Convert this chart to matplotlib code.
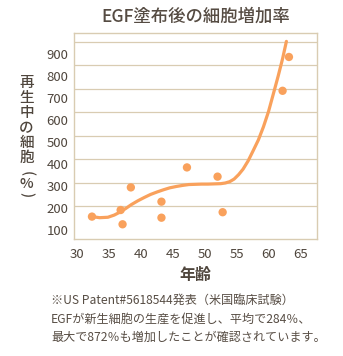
import numpy as np
import matplotlib.pyplot as plt
from matplotlib.ticker import FixedLocator

plt.rcParams['font.family'] = ['Noto Sans CJK JP', 'DejaVu Sans']

# Data #
age = [32.3, 36.8, 37.1, 38.4, 43.2, 43.2, 47.2, 52.0, 52.8, 62.2, 63.2]
cells = [161, 191, 126, 294, 229, 156, 385, 343, 181, 734, 888]

# trend curve
curve_age = [32.3, 33.5, 34.8, 35.8, 36.8, 37.6, 38.5, 39.5, 40.5, 41.5,
             42.5, 43.5, 44.5, 45.5, 46.5, 47.5, 48.5, 49.5, 50.5, 51.5,
             52.5, 53.2, 53.9, 54.6, 55.3, 56.0, 56.8, 57.6, 58.4, 59.2,
             60.0, 60.8, 61.5, 62.2, 62.8]
curve_cells = [161, 156, 158, 168, 183, 198, 216, 233, 248, 262,
               273, 283, 292, 298, 303, 307, 308, 309, 309, 310,
               311, 314, 320, 332, 352, 377, 415, 462, 510, 570,
               640, 725, 800, 880, 959]

xticks = [30, 35, 40, 45, 50, 55, 60, 65]
yticks = [100, 200, 300, 400, 500, 600, 700, 800, 900]

title = 'EGF塗布後の細胞増加率'
xlabel = '年齢'
ylabel = ['再', '生', '中', 'の', '細', '胞', '(', '%', ')']
note = ['※US Patent#5618544発表（米国臨床試験）',
        'EGFが新生細胞の生産を促進し、平均で284％、',
        '最大で872％も増加したことが確認されています。']

# Colours #
orange = '#f9a15c'
text_c = '#4f463d'
frame_c = '#d9ccb2'

fig = plt.figure(figsize=(3.43, 3.56), dpi=100)
ax = fig.add_axes([0.2157, 0.3278, 0.7085, 0.5803])

ax.plot(curve_age, curve_cells, color=orange, lw=2.3, solid_capstyle='round',
        solid_joinstyle='round', zorder=3)
ax.scatter(age, cells, s=36, color=orange, edgecolors='none', zorder=4)

ax.set_xlim(29.48, 67.6)
ax.set_ylim(57.6, 998.5)

ax.set_xticks(xticks)
ax.set_yticks(yticks)
# grid lines sit on a slightly wider spacing than the labels in the original
ax.yaxis.set_minor_locator(FixedLocator([100 + 107.2 * k for k in range(9)]))
ax.grid(True, axis='y', which='minor', color=frame_c, lw=0.9, zorder=1)
ax.tick_params(which='both', length=0)
ax.tick_params(axis='y', pad=4, labelsize=9.5, labelcolor=text_c)
ax.tick_params(axis='x', pad=6, labelsize=9.5, labelcolor=text_c)

for s in ax.spines.values():
    s.set_color(frame_c)
    s.set_linewidth(1.0)

fig.text(0.571, 1 - 16.7 / 356, title, ha='center', va='center',
         fontsize=12.5, color='#554b42', fontweight='medium')
fig.text(0.571, 1 - 275 / 356, xlabel, ha='center', va='center',
         fontsize=11.5, color=text_c, fontweight='bold')

# vertical y label, one character per line
ypos = [83.3, 98.3, 112.8, 128.3, 143.3, 158.3, 173.3, 183.8, 195]
for ch, yp in zip(ylabel, ypos):
    rot = -90 if ch in '()' else 0
    fig.text(26.5 / 343, 1 - yp / 356, ch, ha='center', va='center', rotation=rot,
             fontsize=10.5, color=text_c, fontweight='medium')

for i, line in enumerate(note):
    fig.text(51 / 343, 1 - (300.5 + 18.3 * i) / 356, line, ha='left', va='center',
             fontsize=8.7, color='#574d44')

fig.savefig('out.png', dpi=100)
